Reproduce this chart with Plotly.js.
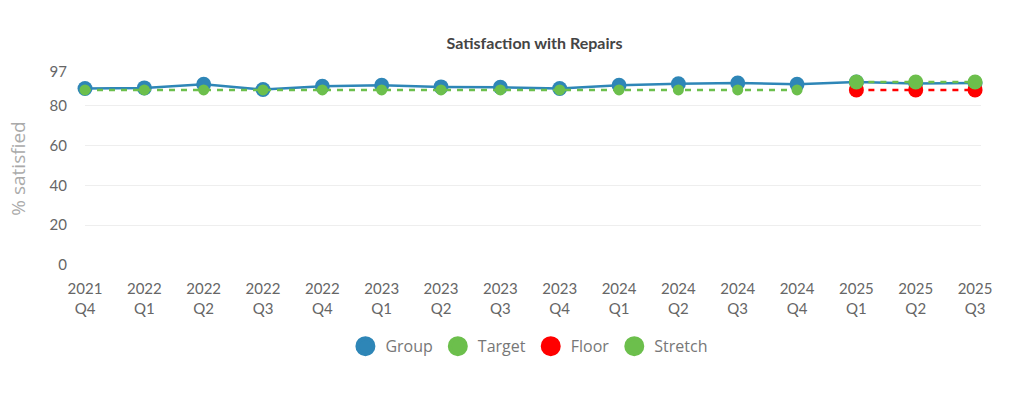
<!DOCTYPE html>
<html>
<head>
<meta charset="utf-8">
<script src="https://cdn.plot.ly/plotly-3.0.1.min.js"></script>
<style>
html,body{margin:0;padding:0;background:#fff;}
#chart{width:1024px;height:399px;}
</style>
</head>
<body>
<div id="chart"></div>
<script>
var quarters = ["2021<br>Q4","2022<br>Q1","2022<br>Q2","2022<br>Q3","2022<br>Q4","2023<br>Q1","2023<br>Q2","2023<br>Q3","2023<br>Q4","2024<br>Q1","2024<br>Q2","2024<br>Q3","2024<br>Q4","2025<br>Q1","2025<br>Q2","2025<br>Q3"];
var groupValues   = [88.7, 89.0, 90.8, 88.2, 89.8, 90.3, 89.5, 89.3, 88.7, 90.3, 91.1, 91.5, 90.8, 92.0, 91.2, 91.5];
var targetValues  = [88, 88, 88, 88, 88, 88, 88, 88, 88, 88, 88, 88, 88, null, null, null];
var floorValues   = [null, null, null, null, null, null, null, null, null, null, null, null, null, 88, 88, 88];
var stretchValues = [null, null, null, null, null, null, null, null, null, null, null, null, null, 92, 92, 92];
var yTicks = [0, 20, 40, 60, 80, 97];

var cBlue = '#2e86b7', cGreen = '#6cbf4c', cRed = '#ff0000';

var traces = [
  {x: quarters, y: groupValues, name: 'Group', mode: 'lines+markers', showlegend: false, cliponaxis: false,
   line: {color: cBlue, width: 2.5}, marker: {color: cBlue, size: 15}},
  {x: quarters, y: targetValues, name: 'Target', mode: 'lines+markers', showlegend: false, cliponaxis: false,
   line: {color: cGreen, width: 2.5, dash: '6px,6px'}, marker: {color: cGreen, size: 11}},
  {x: quarters, y: floorValues, name: 'Floor', mode: 'lines+markers', showlegend: false, cliponaxis: false,
   line: {color: cRed, width: 2.5, dash: '6px,6px'}, marker: {color: cRed, size: 15}},
  {x: quarters, y: stretchValues, name: 'Stretch', mode: 'lines+markers', showlegend: false, cliponaxis: false,
   line: {color: cGreen, width: 2.5, dash: '6px,6px'}, marker: {color: cGreen, size: 15}}
];
// legend entries (circle symbols only)
var legendNames = ['Group', 'Target', 'Floor', 'Stretch'];
var legendColors = [cBlue, cGreen, cRed, cGreen];
legendNames.forEach(function(n, i){
  traces.push({x: [null], y: [null], name: n, mode: 'markers', showlegend: true, hoverinfo: 'skip',
    marker: {color: legendColors[i], size: 16, line: {color: legendColors[i], width: 4}}});
});

var layout = {
  width: 1024, height: 399,
  paper_bgcolor: '#fff', plot_bgcolor: '#fff',
  margin: {l: 85, r: 43, t: 72, b: 134},
  title: {text: '<b>Satisfaction with Repairs</b>', x: 0.522, xanchor: 'center', y: 0.89, yanchor: 'middle',
          font: {family: 'Lato, sans-serif', size: 16, color: '#444'}},
  showlegend: true,
  legend: {orientation: 'h', x: 0.496, xanchor: 'center', y: -0.333, yanchor: 'top',
           font: {family: '"Open Sans", sans-serif', size: 16, color: '#777'},
           itemclick: false, tracegroupgap: 0},
  xaxis: {type: 'category', range: [0, 15.1], showgrid: false, zeroline: false, showline: false,
          ticks: 'outside', ticklen: 10, tickcolor: 'rgba(0,0,0,0)',
          tickfont: {family: 'Lato, sans-serif', size: 15, color: '#666'}, tickangle: 0},
  yaxis: {range: [0, 97], tickmode: 'array', tickvals: yTicks, ticktext: yTicks.map(String),
          showgrid: true, gridcolor: '#eeeeee', gridwidth: 1, zeroline: false, showline: false,
          ticks: 'outside', ticklen: 14, tickcolor: 'rgba(0,0,0,0)',
          tickfont: {family: 'Lato, sans-serif', size: 15, color: '#666'},
          title: {text: '% satisfied', standoff: 18, font: {family: '"Open Sans", sans-serif', size: 19, color: '#aaa'}}}
};

Plotly.newPlot('chart', traces, layout, {displayModeBar: false, responsive: false});
</script>
</body>
</html>
